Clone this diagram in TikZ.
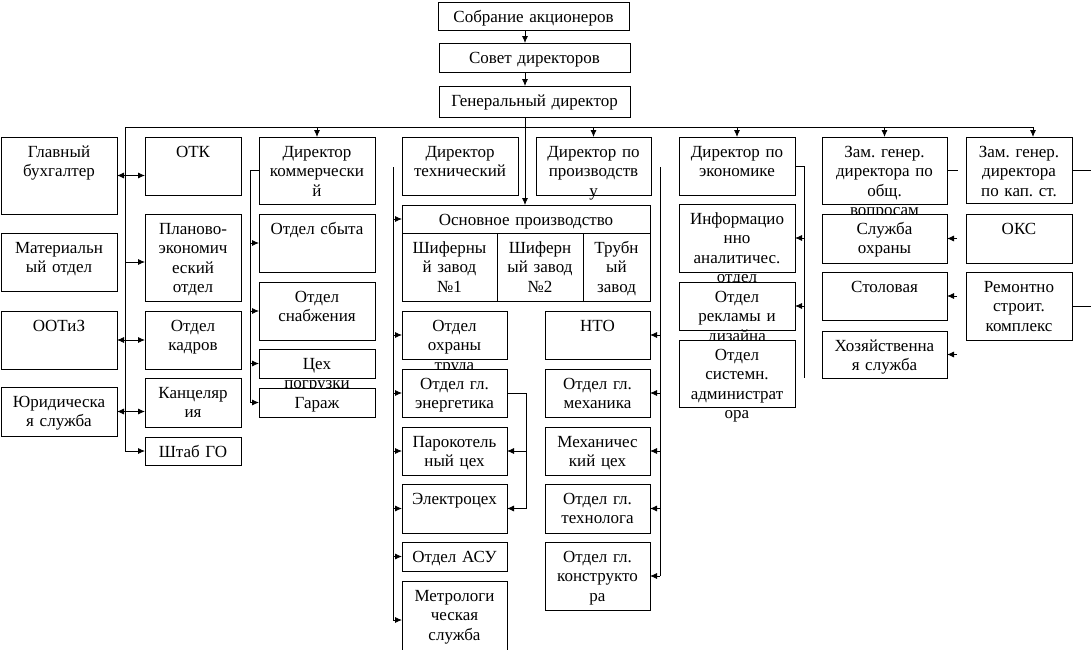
\documentclass[tikz,border=0pt]{standalone}
\usepackage{fontspec}
\setmainfont{Liberation Serif}
\usetikzlibrary{arrows.meta,calc}
\frenchspacing
\tikzset{
  flowarrow/.style={-{Latex[length=7pt,width=6pt]}},
  twoarrow/.style={{Latex[length=7pt,width=6pt]}-{Latex[length=7pt,width=6pt]}},
  unit/.style={draw, fill=white, anchor=north west, inner sep=0pt, outer sep=0pt},
  dept/.style={anchor=base, yshift=-20pt, inner sep=0pt, text width=260pt, align=center, font=\fontsize{17pt}{19.5pt}\selectfont}
}

\begin{document}
\begin{tikzpicture}[x=1pt, y=-1pt, line width=0.8pt]
  \useasboundingbox (0,0) rectangle (1091,649);

  \node[unit, minimum width=191pt, minimum height=28pt, label={[dept]north:{Собрание акционеров}}] (sobr) at (438,2) {};
  \node[unit, minimum width=191pt, minimum height=29pt, label={[dept]north:{Совет директоров}}] (sovet) at (439,43) {};
  \node[unit, minimum width=191pt, minimum height=31pt, label={[dept]north:{Генеральный директор}}] (gendir) at (439,86) {};

  \node[unit, minimum width=116pt, minimum height=77pt, label={[dept]north:{Главный\\бухгалтер}}] (glbuh) at (1,137) {};
  \node[unit, minimum width=116pt, minimum height=58pt, label={[dept]north:{Материальн\\ый отдел}}] (mat) at (1,233) {};
  \node[unit, minimum width=116pt, minimum height=58pt, label={[dept]north:{ООТиЗ}}] (ootiz) at (1,311) {};
  \node[unit, minimum width=116pt, minimum height=49pt, label={[dept]north:{Юридическа\\я служба}}] (yurid) at (1,387) {};

  \node[unit, minimum width=96pt, minimum height=58pt, label={[dept]north:{ОТК}}] (otk) at (145,137) {};
  \node[unit, minimum width=96pt, minimum height=87pt, label={[dept]north:{Планово-\\экономич\\еский\\отдел}}] (plan) at (145,214) {};
  \node[unit, minimum width=96pt, minimum height=58pt, label={[dept]north:{Отдел\\кадров}}] (kadry) at (145,311) {};
  \node[unit, minimum width=96pt, minimum height=49pt, label={[dept]north:{Канцеляр\\ия}}] (kanc) at (145,378) {};
  \node[unit, minimum width=96pt, minimum height=28pt, label={[dept]north:{Штаб ГО}}] (shtab) at (145,437) {};

  \node[unit, minimum width=116pt, minimum height=67pt, label={[dept]north:{Директор\\коммерчески\\й}}] (dirkom) at (259,137) {};
  \node[unit, minimum width=116pt, minimum height=58pt, label={[dept]north:{Отдел сбыта}}] (sbyt) at (259,214) {};
  \node[unit, minimum width=116pt, minimum height=58pt, label={[dept]north:{Отдел\\снабжения}}] (snab) at (259,282) {};
  \node[unit, minimum width=116pt, minimum height=29pt, label={[dept]north:{Цех\\погрузки}}] (tsekh) at (259,349) {};
  \node[unit, minimum width=116pt, minimum height=29pt, label={[dept]north:{Гараж}}] (garazh) at (259,388) {};

  \node[unit, minimum width=116pt, minimum height=58pt, label={[dept]north:{Директор\\технический}}] (dirteh) at (402,137) {};
  \node[unit, minimum width=115pt, minimum height=58pt, label={[dept]north:{Директор по\\производств\\у}}] (dirpr) at (536,137) {};
  \node[unit, minimum width=248pt, minimum height=28pt, label={[dept]north:{Основное производство}}] (osn) at (402,205) {};
  \node[unit, minimum width=95pt, minimum height=68pt, label={[dept]north:{Шиферны\\й завод\\№1}}] (shz1) at (402,233) {};
  \node[unit, minimum width=86pt, minimum height=68pt, label={[dept]north:{Шиферн\\ый завод\\№2}}] (shz2) at (497,233) {};
  \node[unit, minimum width=67pt, minimum height=68pt, label={[dept]north:{Трубн\\ый\\завод}}] (truba) at (583,233) {};

  \node[unit, minimum width=105pt, minimum height=48pt, label={[dept]north:{Отдел\\охраны\\труда}}] (oohr) at (402,311) {};
  \node[unit, minimum width=105pt, minimum height=48pt, label={[dept]north:{Отдел гл.\\энергетика}}] (energ) at (402,369) {};
  \node[unit, minimum width=105pt, minimum height=48pt, label={[dept]north:{Парокотель\\ный цех}}] (parok) at (402,427) {};
  \node[unit, minimum width=105pt, minimum height=49pt, label={[dept]north:{Электроцех}}] (elek) at (402,484) {};
  \node[unit, minimum width=105pt, minimum height=29pt, label={[dept]north:{Отдел АСУ}}] (asu) at (402,542) {};
  \node[unit, minimum width=105pt, minimum height=78pt, label={[dept]north:{Метрологи\\ческая\\служба}}] (metr) at (402,581) {};

  \node[unit, minimum width=105pt, minimum height=48pt, label={[dept]north:{НТО}}] (nto) at (545,311) {};
  \node[unit, minimum width=105pt, minimum height=48pt, label={[dept]north:{Отдел гл.\\механика}}] (meh) at (545,369) {};
  \node[unit, minimum width=105pt, minimum height=48pt, label={[dept]north:{Механичес\\кий цех}}] (mehts) at (545,427) {};
  \node[unit, minimum width=105pt, minimum height=49pt, label={[dept]north:{Отдел гл.\\технолога}}] (tehn) at (545,484) {};
  \node[unit, minimum width=105pt, minimum height=68pt, label={[dept]north:{Отдел гл.\\конструкто\\ра}}] (konst) at (545,542) {};

  \node[unit, minimum width=116pt, minimum height=58pt, label={[dept]north:{Директор по\\экономике}}] (direkon) at (679,137) {};
  \node[unit, minimum width=116pt, minimum height=68pt, label={[dept]north:{Информацио\\нно\\аналитичес.\\отдел}}] (info) at (679,204) {};
  \node[unit, minimum width=116pt, minimum height=48pt, label={[dept]north:{Отдел\\рекламы и\\дизайна}}] (reklama) at (679,282) {};
  \node[unit, minimum width=116pt, minimum height=67pt, label={[dept]north:{Отдел\\системн.\\администрат\\ора}}] (sysadm) at (679,340) {};

  \node[unit, minimum width=125pt, minimum height=67pt, label={[dept]north:{Зам. генер.\\директора по\\общ.\\вопросам}}] (zamobsh) at (822,137) {};
  \node[unit, minimum width=125pt, minimum height=49pt, label={[dept]north:{Служба\\охраны}}] (ohrana) at (822,214) {};
  \node[unit, minimum width=125pt, minimum height=48pt, label={[dept]north:{Столовая}}] (stolov) at (822,272) {};
  \node[unit, minimum width=125pt, minimum height=47pt, label={[dept]north:{Хозяйственна\\я служба}}] (hoz) at (822,331) {};

  \node[unit, minimum width=106pt, minimum height=66pt, label={[dept]north:{Зам. генер.\\директора\\по кап. ст.}}] (zamkap) at (966,137) {};
  \node[unit, minimum width=106pt, minimum height=49pt, label={[dept]north:{ОКС}}] (oks) at (966,214) {};
  \node[unit, minimum width=106pt, minimum height=68pt, label={[dept]north:{Ремонтно\\строит.\\комплекс}}] (remstr) at (966,272) {};

  \coordinate (sp) at (525,0);
  \draw[flowarrow] (sobr.south -| sp) -- (sovet.north -| sp);
  \draw[flowarrow] (sovet.south -| sp) -- (gendir.north -| sp);
  \draw[flowarrow] (gendir.south -| sp) -- (osn.north -| sp);

  \coordinate (busL) at (125,127);
  \coordinate (busR) at (1033,127);
  \draw (busL) -- (busR);
  \draw[flowarrow] (busR) -- (zamkap.north -| busR);
  \foreach \n in {dirkom,dirpr,direkon,zamobsh}
    \draw[flowarrow] (\n.north |- busL) -- (\n.north);

  \draw[flowarrow] (busL) |- (shtab.west);
  \draw[twoarrow] (glbuh.east) -- (otk.west |- glbuh.east);
  \draw[flowarrow] (busL |- mat.east) -- (plan.west |- mat.east);
  \draw[twoarrow] (ootiz.east) -- (kadry.west);
  \draw[twoarrow] (yurid.east) -- (kanc.west |- yurid.east);

  \draw (dirkom.west) -- ++(-9,0) coordinate (kom) -- (kom |- garazh.west);
  \foreach \n in {sbyt,snab,tsekh,garazh}
    \draw[flowarrow] (kom |- \n.west) -- (\n.west);

  \coordinate (teh) at (393,167);
  \draw (teh) -- (teh |- metr.west);
  \foreach \n in {osn,oohr,energ,parok,elek,asu,metr}
    \draw[flowarrow] (teh |- \n.west) -- (\n.west);
  \draw (energ.east) -- ++(19,0) coordinate (en) -- (en |- elek.east);
  \foreach \n in {parok,elek}
    \draw[flowarrow] (en |- \n.east) -- (\n.east);

  \coordinate (pr) at (660,167);
  \draw (pr) -- (pr |- konst.east);
  \foreach \n in {nto,meh,mehts,tehn,konst}
    \draw[flowarrow] (pr |- \n.east) -- (\n.east);

  \draw (direkon.east) -- ++(9,0) coordinate (ek) -- ++(0,212);
  \foreach \n in {info,reklama}
    \draw[flowarrow] (ek |- \n.east) -- (\n.east);

  \draw (zamobsh.east) -- ++(11,0);
  \foreach \n in {ohrana,stolov,hoz}
    \draw[flowarrow] ($(\n.east)+(10,0)$) -- (\n.east);

  \draw (zamkap.east) -- ++(19,0);
  \draw (remstr.east) -- ++(19,0);
\end{tikzpicture}
\end{document}
